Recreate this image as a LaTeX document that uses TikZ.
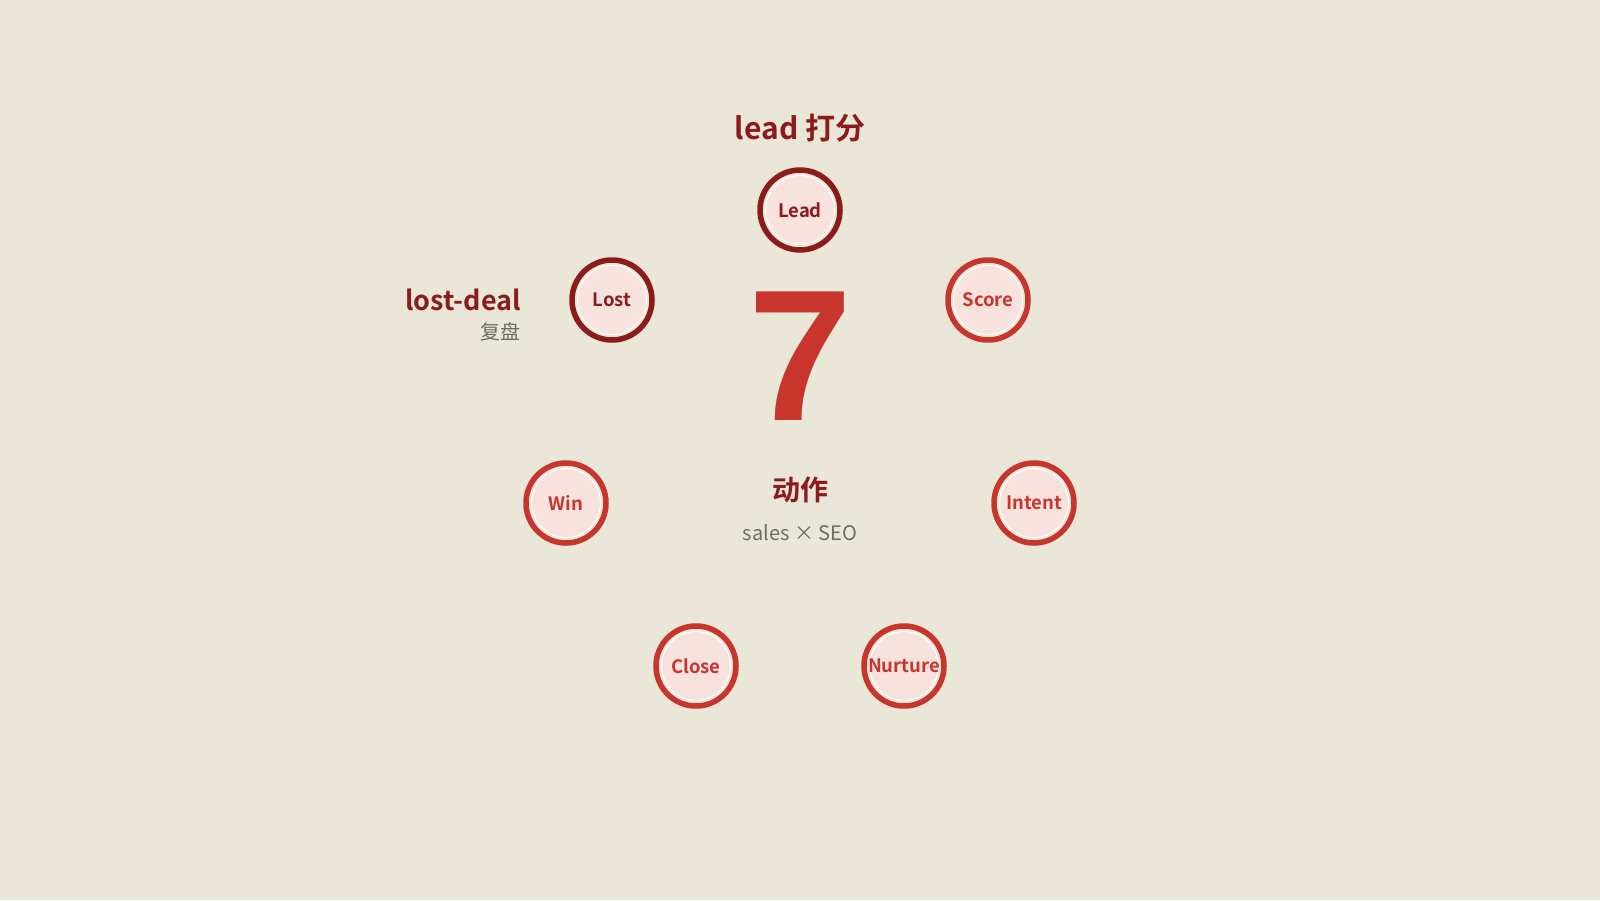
\documentclass[tikz,border=0pt]{standalone}
\usepackage{fontspec}
\usepackage{xcolor}
\usepackage{tikz}
\setmainfont{Noto Sans CJK SC}[BoldFont={Noto Sans CJK SC Bold}]
\newfontfamily\numfont{Liberation Sans}
\definecolor{bg}{HTML}{EAE6D8}
\definecolor{darkred}{HTML}{8C1C1C}
\definecolor{ringred}{HTML}{C8352D}
\definecolor{pinkfill}{HTML}{F8E2DE}
\definecolor{greytext}{HTML}{6E6C66}

\begin{document}
\begin{tikzpicture}[x=1pt,y=-1pt,
  ring/.style={circle,draw=#1,line width=5.5pt,minimum size=80pt,inner sep=0pt,
    fill=bg,text=#1,font=\fontsize{18.5}{18.5}\selectfont\bfseries,
    path picture={\fill[pinkfill,draw=white,line width=1pt] (path picture bounding box.center) circle (34.5pt);}},
  ring/.default=ringred,
  head/.style={text=darkred,font=\fontsize{#1}{#1}\selectfont\bfseries,inner sep=0pt},
  sub/.style={text=greytext,font=\fontsize{#1}{#1}\selectfont,inner sep=0pt}]
\fill[bg] (0,0) rectangle (1600,900);

\node[ring=darkred] (lead) at (800,210) {Lead};
\node[ring] (score) at (988,300) {Score};
\node[ring] (intent) at (1034,503) {Intent};
\node[ring] (nurture) at (904,666) {Nurture};
\node[ring] (close) at (696,666) {Close};
\node[ring] (win) at (566,503) {Win};
\node[ring=darkred] (lost) at (612,300) {Lost};

\node[text=ringred,inner sep=0pt,anchor=base,font=\fontsize{187}{187}\selectfont\numfont\bfseries] (seven) at (800,420) {7};

\node[head=30,anchor=base] (leadtitle) at (800,139) {lead 打分};
\node[head=27,anchor=base east] (losttitle) at (521,310) {lost-deal};
\node[sub=20,anchor=base east] (lostsub) at (521,339) {复盘};
\node[head=28,anchor=base] (acttitle) at (800,500) {动作};
\node[sub=20,anchor=base] (actsub) at (800,540) {sales × SEO};
\end{tikzpicture}
\end{document}
